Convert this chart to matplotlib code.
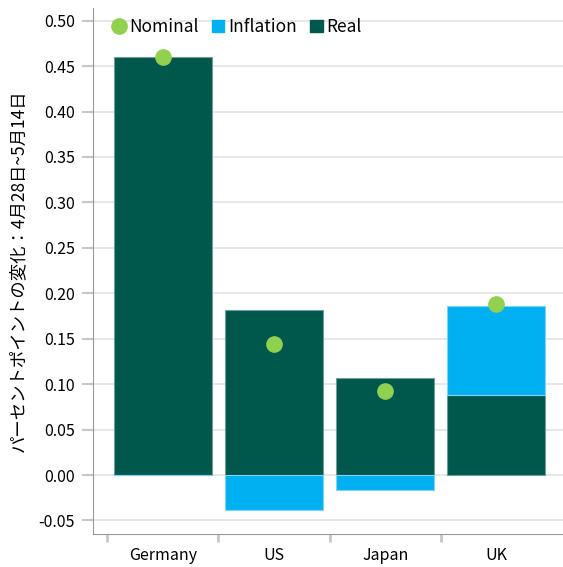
import matplotlib.pyplot as plt
import numpy as np
from matplotlib.lines import Line2D
from matplotlib.patches import Patch

plt.rcParams['font.family'] = ['Noto Sans CJK JP', 'DejaVu Sans']

countries = ['Germany', 'US', 'Japan', 'UK']
real = [0.460, 0.182, 0.107, 0.088]
inflation = [0.000, -0.039, -0.017, 0.098]
nominal = [0.460, 0.144, 0.092, 0.188]
yticks = [-0.05, 0.00, 0.05, 0.10, 0.15, 0.20, 0.25, 0.30, 0.35, 0.40, 0.45, 0.50]

c_real = '#00574B'
c_infl = '#00B0F0'
c_nom = '#92D050'

fig = plt.figure(figsize=(5.63, 5.67), dpi=100)
ax = fig.add_axes([0.165, 0.058, 0.835, 0.928])

x = np.arange(len(countries))
real = np.array(real)
inflation = np.array(inflation)
# inflation stacks on top of real when positive, below zero when negative
infl_bottom = np.where(inflation > 0, real, 0)

ax.bar(x, real, width=0.88, color=c_real, edgecolor='#6f9e98', linewidth=0.8, zorder=3)
ax.bar(x, inflation, bottom=infl_bottom, width=0.88, color=c_infl, edgecolor='#7fd4f5',
       linewidth=0.8, zorder=3)
ax.plot(x, nominal, 'o', color=c_nom, markersize=11, zorder=4)

ax.set_ylim(-0.065, 0.514)
ax.set_xlim(-0.63, 3.6)
ax.set_yticks(yticks)
ax.set_yticklabels(['%.2f' % v for v in yticks], fontsize=11.5)
ax.yaxis.grid(True, color='#e3e3e3', linewidth=1.2, zorder=0)
ax.set_axisbelow(True)

# tick marks sit on the category boundaries, labels on the centres
ax.set_xticks(x - 0.5)
ax.set_xticklabels([])
ax.set_xticks(x, minor=True)
ax.set_xticklabels(countries, minor=True, fontsize=11.5)
ax.tick_params(axis='x', which='major', length=6, width=2, color='#c8c8c8')
ax.tick_params(axis='x', which='minor', length=0, pad=9)
ax.tick_params(axis='y', length=8, width=1.5, color='#c8c8c8', pad=5)

for s in ['top', 'right']:
    ax.spines[s].set_visible(False)
ax.spines['left'].set_color('#999999')
ax.spines['bottom'].set_color('#999999')

ax.set_ylabel('パーセントポイントの変化：4月28日~5月14日', fontsize=12.5, labelpad=8)

handles = [
    Line2D([], [], marker='o', color=c_nom, linestyle='none', markersize=11),
    Patch(color=c_infl),
    Patch(color=c_real),
]
leg = ax.legend(handles, ['Nominal', 'Inflation', 'Real'], loc='upper left',
                bbox_to_anchor=(0.01, 1.01), ncol=3, frameon=False, fontsize=12.5,
                handlelength=0.7, handletextpad=0.2, columnspacing=0.8)

fig.savefig('out.png', dpi=100)
